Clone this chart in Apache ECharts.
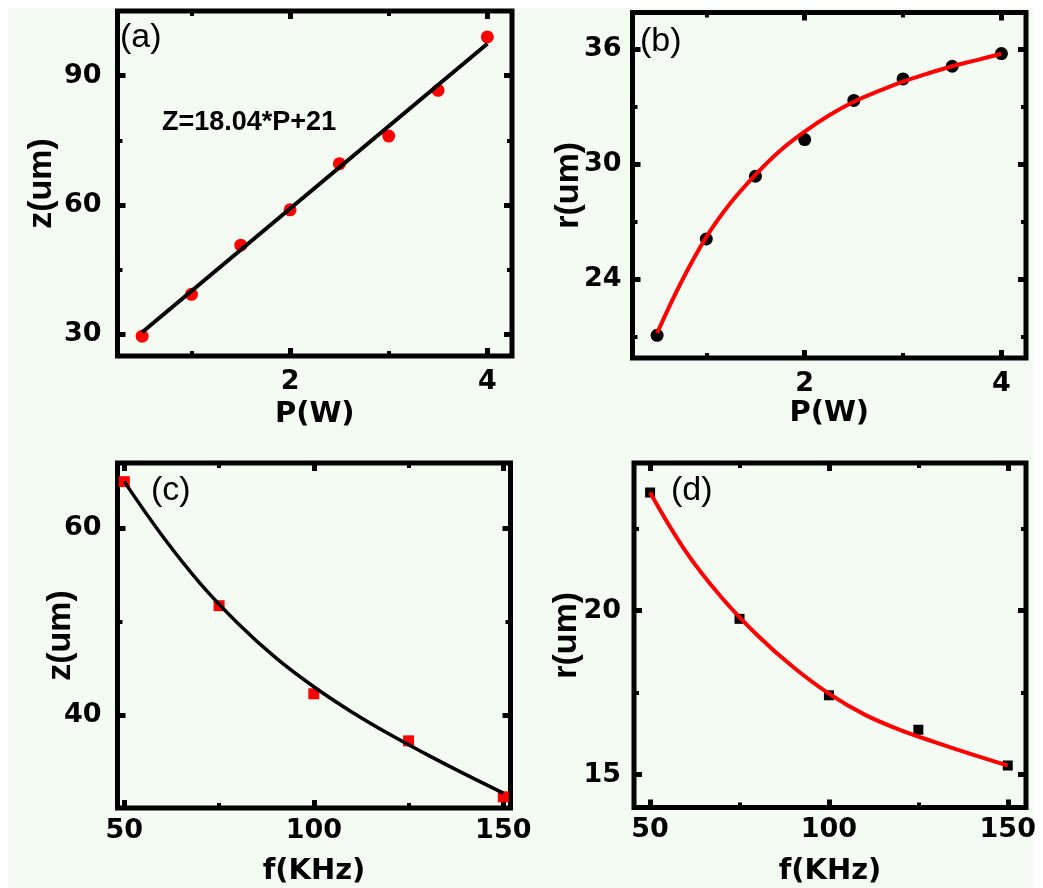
<!DOCTYPE html>
<html><head><meta charset="utf-8">
<script src="https://cdn.jsdelivr.net/npm/echarts@6/dist/echarts.min.js"></script>
<style>html,body{margin:0;padding:0;background:#fff}#c{width:1043px;height:888px}</style>
</head><body><div id="c"></div>
<script>
// ---- data ----
const powerW = [0.5, 1, 1.5, 2, 2.5, 3, 3.5, 4];
const zVsPower = [29.6, 39.3, 50.7, 58.9, 69.6, 76.0, 86.6, 99.0];
const zFitPower = [0.5, 4];
const zFitValues = [30.5, 97.4];

const rVsPower = [21.08, 26.1, 29.37, 31.28, 33.32, 34.44, 35.1, 35.76];
const rFitPower = [0.5, 0.75, 1, 1.25, 1.5, 1.75, 2, 2.25, 2.5, 2.75, 3, 3.25, 3.5, 3.75, 4];
const rFitValues = [21.2, 23.9, 26.2, 28.0, 29.45, 30.7, 31.7, 32.55, 33.25, 33.8, 34.3, 34.72, 35.1, 35.42, 35.75];

const freqKHz = [50, 75, 100, 125, 150];
const zVsFreq = [65.0, 51.7, 42.25, 37.2, 31.2];
const zFitFreq = [50, 60, 70, 80, 90, 100, 110, 120, 130, 140, 150];
const zFitFreqValues = [65.0, 59.2, 54.1, 49.8, 46.1, 43.0, 40.3, 37.9, 35.7, 33.6, 31.6];

const rVsFreq = [23.6, 19.75, 17.42, 16.37, 15.28];
const rFitFreq = [50, 60, 70, 80, 90, 100, 110, 120, 130, 140, 150];
const rFitFreqValues = [23.6, 21.8, 20.4, 19.25, 18.28, 17.47, 16.83, 16.36, 15.98, 15.62, 15.28];

// tick values
const pMajor = [2, 4], pMinor = [1, 3];
const aYMajor = [30, 60, 90], aYMinor = [45, 75];
const bYMajor = [24, 30, 36], bYMinor = [21, 27, 33];
const fMajor = [50, 100, 150], fMinor = [75, 125];
const cYMajor = [40, 60], cYMinor = [50];
const dYMajor = [15, 20], dYMinor = [17.5, 22.5];

const labelFont = {fontFamily: '"DejaVu Sans"', fontWeight: 'bold', fontSize: 27, color: '#000'};
const xNameFont = {fontFamily: '"DejaVu Sans"', fontWeight: 'bold', fontSize: 29, color: '#000'};
const yNameFont = {fontFamily: '"Liberation Sans"', fontWeight: 'bold', fontSize: 34, color: '#000'};

const xAxes = [], yAxes = [];
function addAxes(gi, xr, yr, xMaj, xMin, yMaj, yMin, o) {
  const common = {type: 'value', gridIndex: gi, splitLine: {show: false}, axisLine: {show: false}};
  const tick = (vals, len, w) => ({show: true, inside: true, length: len, customValues: vals, lineStyle: {color: '#000', width: w}});
  const noLabel = {show: false};
  xAxes.push(Object.assign({}, common, {min: xr[0], max: xr[1], position: 'bottom',
    name: o.xName, nameLocation: 'middle', nameGap: o.xNameGap, nameMoveOverlap: false, nameTextStyle: xNameFont,
    axisTick: tick(xMaj, 8, 5),
    axisLabel: Object.assign({show: true, customValues: xMaj, margin: o.xLabelMargin}, labelFont)}));
  xAxes.push(Object.assign({}, common, {min: xr[0], max: xr[1], position: 'bottom', axisTick: tick(xMin, 5, 4), axisLabel: noLabel}));
  xAxes.push(Object.assign({}, common, {min: xr[0], max: xr[1], position: 'top', axisTick: tick(xMaj, 8, 5), axisLabel: noLabel}));
  xAxes.push(Object.assign({}, common, {min: xr[0], max: xr[1], position: 'top', axisTick: tick(xMin, 5, 4), axisLabel: noLabel}));
  yAxes.push(Object.assign({}, common, {min: yr[0], max: yr[1], position: 'left',
    name: o.yName, nameLocation: 'middle', nameGap: o.yNameGap, nameRotate: 90, nameMoveOverlap: false, nameTextStyle: yNameFont,
    axisTick: tick(yMaj, 8, 5),
    axisLabel: Object.assign({show: true, customValues: yMaj, margin: o.yLabelMargin}, labelFont)}));
  yAxes.push(Object.assign({}, common, {min: yr[0], max: yr[1], position: 'left', axisTick: tick(yMin, 5, 4), axisLabel: noLabel}));
  yAxes.push(Object.assign({}, common, {min: yr[0], max: yr[1], position: 'right', axisTick: tick(yMaj, 8, 5), axisLabel: noLabel}));
  yAxes.push(Object.assign({}, common, {min: yr[0], max: yr[1], position: 'right', axisTick: tick(yMin, 5, 4), axisLabel: noLabel}));
}

addAxes(0, [0.25, 4.25], [25, 105], pMajor, pMinor, aYMajor, aYMinor,
  {xName: 'P(W)', xNameGap: 44, xLabelMargin: 12, yName: 'z(um)', yNameGap: 59, yLabelMargin: 16});
addAxes(1, [0.25, 4.25], [19.9, 37.9], pMajor, pMinor, bYMajor, bYMinor,
  {xName: 'P(W)', xNameGap: 41, xLabelMargin: 12, yName: 'r(um)', yNameGap: 47, yLabelMargin: 11});
addAxes(2, [48.2, 151.9], [30, 67], fMajor, fMinor, cYMajor, cYMinor,
  {xName: 'f(KHz)', xNameGap: 49, xLabelMargin: 9, yName: 'z(um)', yNameGap: 40, yLabelMargin: 16});
addAxes(3, [45.5, 155.1], [14, 24.5], fMajor, fMinor, dYMajor, dYMinor,
  {xName: 'f(KHz)', xNameGap: 49, xLabelMargin: 9, yName: 'r(um)', yNameGap: 50, yLabelMargin: 13});

const pairs = (xs, ys) => xs.map((x, i) => [x, ys[i]]);
const gridStyle = {show: true, borderWidth: 5, borderColor: '#000', backgroundColor: 'transparent', containLabel: false};
const fitLine = {type: 'line', smooth: 0.4, showSymbol: false, z: 3};

const option = {
  animation: false,
  backgroundColor: '#ffffff',
  graphic: [
    {type: 'rect', z: -10, silent: true, shape: {x: 8, y: 8, width: 1025, height: 880}, style: {fill: '#f4fbf2'}},
    {type: 'text', x: 120, y: 38, style: {text: '(a)', font: '34px "Liberation Sans"', fill: '#000', verticalAlign: 'middle'}},
    {type: 'text', x: 640, y: 42, style: {text: '(b)', font: '34px "Liberation Sans"', fill: '#000', verticalAlign: 'middle'}},
    {type: 'text', x: 151, y: 491, style: {text: '(c)', font: '34px "Liberation Sans"', fill: '#000', verticalAlign: 'middle'}},
    {type: 'text', x: 671, y: 491, style: {text: '(d)', font: '34px "Liberation Sans"', fill: '#000', verticalAlign: 'middle'}},
    {type: 'text', x: 162, y: 123, style: {text: 'Z=18.04*P+21', font: 'bold 27px "Liberation Sans"', fill: '#000', verticalAlign: 'middle'}}
  ],
  grid: [
    Object.assign({left: 117.5, top: 11, width: 394.5, height: 345}, gridStyle),
    Object.assign({left: 632.5, top: 12.5, width: 393.5, height: 345.5}, gridStyle),
    Object.assign({left: 117.5, top: 463, width: 393, height: 345}, gridStyle),
    Object.assign({left: 634, top: 463, width: 392, height: 344.5}, gridStyle)
  ],
  xAxis: xAxes,
  yAxis: yAxes,
  series: [
    {type: 'scatter', xAxisIndex: 0, yAxisIndex: 0, data: pairs(powerW, zVsPower), symbol: 'circle', symbolSize: 13, itemStyle: {color: '#ff0000', opacity: 1}, z: 2},
    {type: 'line', xAxisIndex: 0, yAxisIndex: 0, data: pairs(zFitPower, zFitValues), showSymbol: false, lineStyle: {color: '#000', width: 4}, z: 3},

    {type: 'scatter', xAxisIndex: 4, yAxisIndex: 4, data: pairs(powerW, rVsPower), symbol: 'circle', symbolSize: 13, itemStyle: {color: '#000', opacity: 1}, z: 2},
    Object.assign({xAxisIndex: 4, yAxisIndex: 4, data: pairs(rFitPower, rFitValues), lineStyle: {color: '#ff0000', width: 4}}, fitLine),

    {type: 'scatter', xAxisIndex: 8, yAxisIndex: 8, data: pairs(freqKHz, zVsFreq), symbol: 'rect', symbolSize: 11, itemStyle: {color: '#ff0000', opacity: 1}, z: 2},
    Object.assign({xAxisIndex: 8, yAxisIndex: 8, data: pairs(zFitFreq, zFitFreqValues), lineStyle: {color: '#000', width: 3.5}}, fitLine),

    {type: 'scatter', xAxisIndex: 12, yAxisIndex: 12, data: pairs(freqKHz, rVsFreq), symbol: 'rect', symbolSize: 10, itemStyle: {color: '#000', opacity: 1}, z: 2},
    Object.assign({xAxisIndex: 12, yAxisIndex: 12, data: pairs(rFitFreq, rFitFreqValues), lineStyle: {color: '#ff0000', width: 4}}, fitLine)
  ]
};
const chart = echarts.init(document.getElementById('c'), null, {renderer: 'canvas'});
chart.setOption(option);
</script></body></html>
